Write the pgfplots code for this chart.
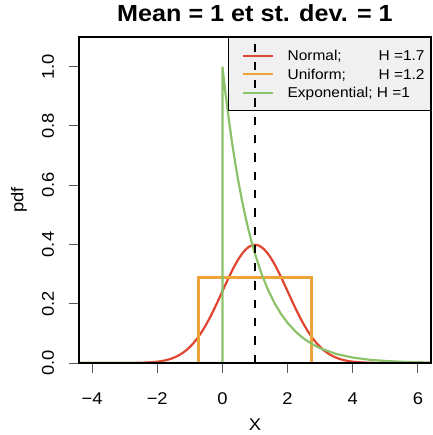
\documentclass[border=0pt]{standalone}
\usepackage{pgfplots}
\pgfplotsset{compat=1.18}
\usepackage{fontspec}
\setmainfont{Liberation Sans}[FakeStretch=1.08]
\definecolor{cNorm}{HTML}{E04530}
\definecolor{cUnif}{HTML}{EDA33A}
\definecolor{cExp}{HTML}{8CC26A}
\begin{document}
\begin{tikzpicture}
\path[use as bounding box] (-79pt,-72pt) rectangle (353pt,363pt);
\pgfplotsset{
  myaxis/.style={
    scale only axis, width=352pt, height=326pt,
    xmin=-4.4, xmax=6.4, ymin=0, ymax=1.1,
    at={(0pt,0pt)}, anchor=south west,
  }
}
\begin{axis}[myaxis, axis on top,
  axis line style={line width=2pt},
  xtick={-4,-2,0,2,4,6},
  xticklabels={−4,−2,0,2,4,6},
  ytick={0,0.2,0.4,0.6,0.8,1.0},
  yticklabels={0.0,0.2,0.4,0.6,0.8,1.0},
  xtick pos=bottom, ytick pos=left,
  tick align=outside, major tick length=10pt,
  tick style={black!65, line width=1pt},
  xticklabel style={font=\fontsize{17}{19}\selectfont, anchor=center, yshift=-26pt},
  yticklabel style={font=\fontsize{17}{19}\selectfont, xshift=-21pt, rotate=90, anchor=center},
  xlabel={X}, ylabel={pdf},
  xlabel style={font=\fontsize{17}{19}\selectfont, at={(axis description cs:0.5,-0.19)}, anchor=center},
  ylabel style={font=\fontsize{17}{19}\selectfont, at={(axis description cs:-0.1705,0.5)}, anchor=center},
  title={Mean = 1 et st. dev. = 1},
  title style={font=\fontsize{23.3}{27}\selectfont\bfseries, at={(axis description cs:0.5,1)}, anchor=base, yshift=9.7pt},
  legend style={at={(axis description cs:1,1)}, anchor=north east,
    fill=black!6, draw=black, line width=0.8pt,
    font=\fontsize{14.3}{17}\selectfont,
    inner xsep=6pt, inner ysep=9pt, row sep=0pt,
    nodes={inner xsep=0pt, inner ysep=4pt, text height=10.5pt, text depth=0pt},
    /tikz/every odd column/.style={column sep=14pt}},
  legend cell align=left,
  legend image code/.code={\path (0pt,0pt); \draw[#1] (7pt,0pt) -- (37pt,0pt);},
]
\addplot[cNorm, line width=2.2pt] coordinates {
(-4.4,0) (-4,0.0000015) (-3.5,0.000016) (-3,0.000134) (-2.8,0.000292) (-2.6,0.000612) (-2.4,0.001232) (-2.2,0.002384)
(-2,0.004432) (-1.9,0.005953) (-1.8,0.007915) (-1.7,0.010421) (-1.6,0.013583) (-1.5,0.017528) (-1.4,0.022395)
(-1.3,0.028327) (-1.2,0.035475) (-1.1,0.043984) (-1,0.053991) (-0.9,0.065616) (-0.8,0.078950) (-0.7,0.094049)
(-0.6,0.110921) (-0.5,0.129518) (-0.4,0.149727) (-0.3,0.171369) (-0.2,0.194186) (-0.1,0.217852) (0,0.241971)
(0.1,0.266085) (0.2,0.289692) (0.3,0.312254) (0.4,0.333225) (0.5,0.352065) (0.6,0.368270) (0.7,0.381388)
(0.8,0.391043) (0.9,0.396953) (1,0.398942) (1.1,0.396953) (1.2,0.391043) (1.3,0.381388) (1.4,0.368270)
(1.5,0.352065) (1.6,0.333225) (1.7,0.312254) (1.8,0.289692) (1.9,0.266085) (2,0.241971) (2.1,0.217852)
(2.2,0.194186) (2.3,0.171369) (2.4,0.149727) (2.5,0.129518) (2.6,0.110921) (2.7,0.094049) (2.8,0.078950)
(2.9,0.065616) (3,0.053991) (3.1,0.043984) (3.2,0.035475) (3.3,0.028327) (3.4,0.022395) (3.5,0.017528)
(3.6,0.013583) (3.7,0.010421) (3.8,0.007915) (3.9,0.005953) (4,0.004432) (4.2,0.002384) (4.4,0.001232)
(4.6,0.000612) (4.8,0.000292) (5,0.000134) (5.5,0.000016) (6,0.0000015) (6.4,0)
};
\addlegendentry{\makebox[91pt][l]{Normal;}H =1.7}
\addplot[cUnif, line width=2.2pt] coordinates {
(-4.4,0) (-0.7320508,0) (-0.7320508,0.288675) (2.7320508,0.288675) (2.7320508,0) (6.4,0)
};
\addlegendentry{\makebox[91pt][l]{Uniform;}H =1.2}
\addplot[cExp, line width=2.2pt] coordinates {
(-4.4,0) (0,0) (0,1) (0.1,0.904837) (0.2,0.818731) (0.3,0.740818) (0.4,0.670320) (0.5,0.606531)
(0.6,0.548812) (0.7,0.496585) (0.8,0.449329) (0.9,0.406570) (1,0.367879) (1.2,0.301194) (1.4,0.246597)
(1.6,0.201897) (1.8,0.165299) (2,0.135335) (2.25,0.105399) (2.5,0.082085) (2.75,0.063928) (3,0.049787)
(3.5,0.030197) (4,0.018316) (4.5,0.011109) (5,0.006738) (5.5,0.004087) (6,0.002479) (6.4,0.001662)
};
\addlegendentry{Exponential; H =1}
\end{axis}
\begin{axis}[myaxis, hide axis]
\addplot[black, line width=2.4pt, dash pattern=on 8.3pt off 10pt] coordinates {(1,0) (1,1.1)};
\end{axis}
\end{tikzpicture}
\end{document}
